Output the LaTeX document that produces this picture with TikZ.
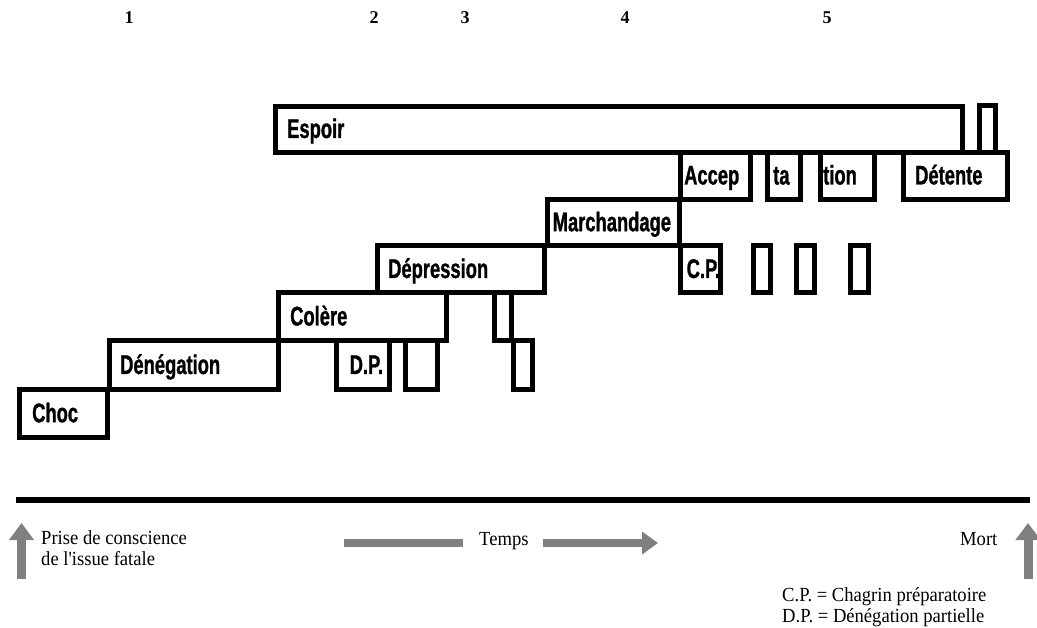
\documentclass[tikz,border=0pt]{standalone}
\usepackage{fontspec}
\setmainfont{Liberation Serif}
\newfontfamily\stagefont[FakeStretch=0.68, FakeBold=1]{Liberation Sans Bold}
\newfontfamily\notefont[FakeStretch=0.93]{Liberation Serif}
\usetikzlibrary{arrows.meta}
\definecolor{arrowgray}{HTML}{808080}
\tikzset{
  stagebox/.style={draw, line width=5pt, rectangle, anchor=north west, inner sep=0pt, outer sep=0pt},
  stagetext/.style={anchor=west, inner sep=0pt, font=\stagefont\fontsize{27}{27}\selectfont, text height=21pt, text depth=4pt},
  note/.style={anchor=base west, inner sep=0pt, font=\notefont\fontsize{20}{24}\selectfont},
  num/.style={anchor=base, inner sep=0pt, font=\bfseries\fontsize{18}{18}\selectfont},
  grayshaft/.style={draw=arrowgray, line width=#1},
  grayhead/.style={-{Triangle[width=#1,length=17pt]}},
  axis/.style={line width=6pt}
}
\newcommand\stg[6]{%
  \pgfmathsetmacro\stw{#4-#2}\pgfmathsetmacro\sth{#5-#3}%
  \node[stagebox, minimum width=\stw pt, minimum height=\sth pt, #6] (#1) at (#2,#3) {};}
\begin{document}
\begin{tikzpicture}[x=1pt,y=-1pt]
\useasboundingbox (0,0) rectangle (1037,628);
% numbers
\node[num] (n1) at (129,24) {1};
\node[num] (n2) at (374,24) {2};
\node[num] (n3) at (465,24) {3};
\node[num] (n4) at (625,24) {4};
\node[num] (n5) at (827,24) {5};
% stage boxes
\stg{choc}{19.5}{390}{107.5}{437.5}{label={[stagetext,xshift=12.5pt]west:Choc}}
\stg{deneg}{109.5}{341}{278}{390}{label={[stagetext,xshift=10.5pt]west:Dénégation}}
\stg{colere}{278}{293}{446.5}{341}{label={[stagetext,xshift=12pt]west:Colère}}
\stg{dp}{336.5}{341}{389.5}{390}{label={[stagetext,xshift=13pt]west:D.P.}}
\stg{dpb}{405.5}{341}{437.5}{390}{}
\stg{depr}{377}{246}{544.5}{293}{label={[stagetext,xshift=11pt]west:Dépression}}
\stg{thinA}{494.5}{293}{511.5}{341}{}
\stg{thinB}{513.5}{341}{532.5}{390}{}
\stg{march}{547.5}{199.5}{679.5}{246}{label={[stagetext,xshift=5pt]west:Marchandage}}
\stg{cp}{680.5}{246}{720.5}{293}{label={[stagetext,xshift=6pt]west:C.P.}}
\stg{cpA}{753.5}{246}{770.5}{293}{}
\stg{cpB}{796.5}{246}{814.5}{293}{}
\stg{cpC}{850.5}{246}{868.5}{293}{}
\stg{accep}{680.5}{152.5}{750.5}{199.5}{label={[stagetext,xshift=3.5pt]west:Accep}}
\stg{ta}{767.5}{152.5}{800.5}{199.5}{label={[stagetext,xshift=5.5pt]west:ta}}
\stg{tion}{820.5}{152.5}{874.5}{199.5}{label={[stagetext,xshift=2.5pt]west:tion}}
\stg{detente}{903.5}{152.5}{1007.5}{199.5}{label={[stagetext,xshift=11.5pt]west:Détente}}
\stg{espoir}{275.5}{106.5}{962.5}{152.5}{label={[stagetext,xshift=11.5pt]west:Espoir}}
\stg{espB}{979.5}{105.5}{995.5}{152.5}{}
% time axis
\coordinate (axL) at (16,500);
\coordinate (axR) at (1030,500);
\draw[axis] (axL) -- (axR);
% up arrows
\coordinate (upL0) at (21.5,579);
\coordinate (upL1) at (21.5,523);
\coordinate (upR0) at (1028,579);
\coordinate (upR1) at (1028,523);
\draw[grayshaft=9pt, grayhead=24pt, arrowgray] (upL0) -- (upL1);
\draw[grayshaft=9pt, grayhead=24pt, arrowgray] (upR0) -- (upR1);
% Temps arrow
\coordinate (tA0) at (344,543);
\coordinate (tA1) at (463,543);
\coordinate (tB0) at (543,543);
\coordinate (tB1) at (658,543);
\draw[grayshaft=8pt] (tA0) -- (tA1);
\draw[grayshaft=8pt, arrowgray, -{Triangle[width=22pt,length=16pt]}] (tB0) -- (tB1);
% texts
\node[note] (prise1) at (41,544) {Prise de conscience};
\node[note] (prise2) at (41,565) {de l'issue fatale};
\node[note] (temps) at (479,545) {Temps};
\node[note] (mort) at (960,545) {Mort};
\node[note] (cpl) at (782,601) {C.P. = Chagrin préparatoire};
\node[note] (dpl) at (782,622) {D.P. = Dénégation partielle};
\end{tikzpicture}
\end{document}
